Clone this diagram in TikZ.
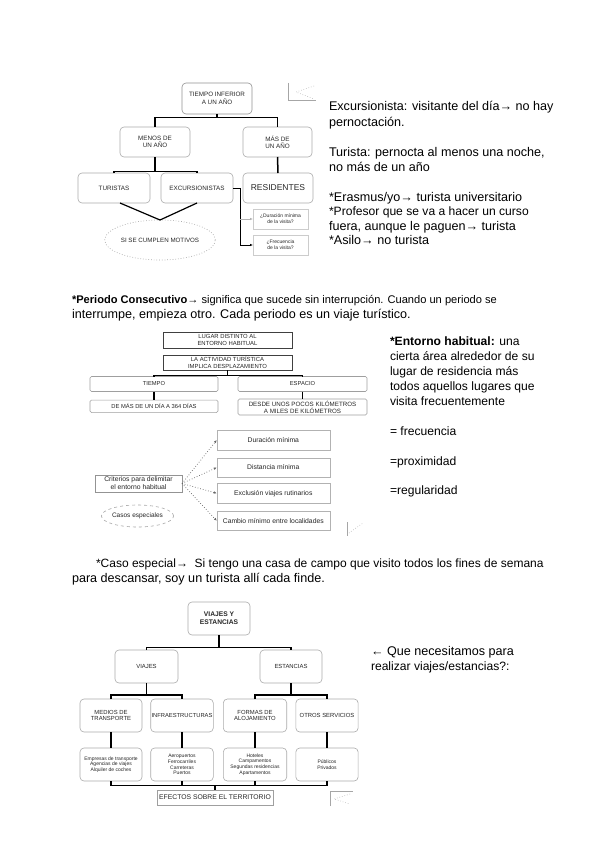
\documentclass[tikz,border=0pt]{standalone}
\usepackage{fontspec}
\setmainfont{Liberation Sans}
\usetikzlibrary{arrows.meta,shapes.geometric}
\begin{document}
\begin{tikzpicture}[x=1pt,y=-1pt,
  every node/.style={inner sep=0pt, outer sep=0pt},
  body/.style={anchor=base west, font=\fontsize{12.6}{14.7}\selectfont},
  bodys/.style={anchor=base west, font=\fontsize{12.1}{14.7}\selectfont},
  rbox/.style={draw=gray!65, line width=0.6pt, rounded corners=4pt, align=center, font=\fontsize{6.3}{7.4}\selectfont, text=black!85},
  mbox/.style={draw=gray!75, line width=0.6pt, rounded corners=1.5pt, align=center, font=\fontsize{5.8}{6.8}\selectfont, text=black!85},
  sbox/.style={draw=black!75, line width=0.5pt, align=center, font=\fontsize{5.9}{6.9}\selectfont, text=black!85},
  gbox/.style={draw=gray!60, line width=0.5pt, align=center, font=\fontsize{6.8}{7.9}\selectfont, text=black!85},
  conn/.style={draw=black, line width=1.5pt},
  thinconn/.style={draw=black, line width=0.8pt},
  dotarrow/.style={draw=black!60, dotted, line width=0.7pt, -{Latex[length=3pt,width=2.5pt]}},
  dotline/.style={draw=gray!60, dotted, line width=0.6pt},
]
\useasboundingbox[fill=white] (0,0) rectangle (600,848);

% ---------- top diagram ----------
\node[rbox, draw=gray!85, minimum width=70pt, minimum height=31pt] (tiempo) at (217,98.5) {TIEMPO INFERIOR\\A UN AÑO};
\node[rbox, minimum width=70pt, minimum height=30pt] (menos) at (155,142) {MENOS DE\\UN AÑO};
\node[rbox, minimum width=69pt, minimum height=30pt] (mas) at (277.5,142) {MÁS DE\\UN AÑO};
\node[rbox, minimum width=72pt, minimum height=30pt] (turistas) at (114,188) {TURISTAS};
\node[rbox, minimum width=72pt, minimum height=30pt] (excur) at (197,188) {EXCURSIONISTAS};
\node[rbox, minimum width=70pt, minimum height=30pt, font=\fontsize{8.5}{10}\selectfont] (resid) at (278,188) {RESIDENTES};
\node[draw=gray!70, dotted, line width=0.7pt, ellipse, minimum width=94pt, minimum height=40pt, font=\fontsize{6.2}{7.2}\selectfont, text=black!85] (motiv) at (160,240) {SI SE CUMPLEN MOTIVOS};
\node[gbox, draw=gray!40, minimum width=55pt, minimum height=20pt, font=\fontsize{5}{6}\selectfont] (q1) at (280.5,219) {¿Duración mínima\\de la visita?};
\node[gbox, draw=gray!40, minimum width=55pt, minimum height=20pt, font=\fontsize{5}{6}\selectfont] (q2) at (280.5,245) {¿Frecuencia\\de la visita?};

\coordinate (b1) at (217,117.5);
\draw[conn] (tiempo.south) -- (b1);
\draw[conn] (menos.north) |- (b1) -| (mas.north);
\coordinate (b2) at (155,171.7);
\draw[conn] (menos.south) -- (b2);
\draw[conn] (turistas.north) |- (b2) -| (excur.north);
\draw[conn] (mas.south) -- (resid.north);
\draw[conn, line width=1.2pt] ([xshift=6pt]turistas.south) -- (motiv.north);
\draw[conn, line width=1.2pt] (excur.south) -- (motiv.north);
\draw[thinconn, -{Latex[length=3pt,width=2.5pt]}] (excur.east) -- ++(7,0) |- (q2.west);
\coordinate (j1) at (240,219);
\draw[gray!60, line width=0.6pt, -{Latex[length=3pt,width=2.5pt]}] (j1) -- (q1.west);

\draw[gray!70, line width=0.6pt] (288,83) -- (288,100) -- (316,100);
\draw[dotline] (314,86) -- (296,92) -- (314,99);

% ---------- top text ----------
\node[body] (t1) at (329,111) {Excursionista: visitante del día→ no hay};
\node[body] (t2) at (329,126) {pernoctación.};
\node[body] (t3) at (329,156) {Turista: pernocta al menos una noche,};
\node[body] (t4) at (329,171) {no más de un año};
\node[body] (t5) at (329,201) {*Erasmus/yo→ turista universitario};
\node[bodys] (t6) at (329,215.5) {*Profesor que se va a hacer un curso};
\node[body] (t7) at (329,230) {fuera, aunque le paguen→ turista};
\node[body] (t8) at (329,244.5) {*Asilo→ no turista};

% ---------- middle paragraph ----------
\node[body, font=\fontsize{11.1}{14.7}\selectfont] (p1) at (72,303) {\textbf{*Periodo Consecutivo}→ significa que sucede sin interrupción. Cuando un periodo se};
\node[body] (p2) at (72,318) {interrumpe, empieza otro. Cada periodo es un viaje turístico.};

% ---------- middle diagram ----------
\node[sbox, minimum width=129pt, minimum height=16pt] (lugar) at (227.5,340) {LUGAR DISTINTO AL\\ENTORNO HABITUAL};
\node[sbox, minimum width=129pt, minimum height=15pt] (activ) at (227.5,362.5) {LA ACTIVIDAD TURÍSTICA\\IMPLICA DESPLAZAMIENTO};
\node[mbox, minimum width=128pt, minimum height=15pt] (tiem2) at (154,384) {TIEMPO};
\node[mbox, minimum width=129pt, minimum height=15pt] (esp) at (302.5,384) {ESPACIO};
\node[mbox, minimum width=128pt, minimum height=12.5pt] (dur2) at (154,406.3) {DE MÁS DE UN DÍA A 364 DÍAS};
\node[mbox, minimum width=129pt, minimum height=16pt, font=\fontsize{6.2}{7}\selectfont] (esp2) at (302.5,407) {DESDE UNOS POCOS KILÓMETROS\\A MILES DE KILÓMETROS};
\coordinate (b3) at (227.5,375.5);
\draw[conn] (activ.south) -- (b3);
\draw[conn] (tiem2.north) |- (b3) -| (esp.north);
\draw[conn] (tiem2.south) -- (dur2.north);
\draw[conn] (esp.south) -- (esp2.north);

\node[gbox, draw=gray!85, minimum width=87pt, minimum height=17pt] (crit) at (138.5,483.5) {Criterios para delimitar\\el entorno habitual};
\node[gbox, minimum width=113pt, minimum height=20pt] (c1) at (273.3,440) {Duración mínima};
\node[gbox, minimum width=113pt, minimum height=18.5pt] (c2) at (273.3,467.5) {Distancia mínima};
\node[gbox, minimum width=113pt, minimum height=20pt] (c3) at (273.3,493.3) {Exclusión viajes rutinarios};
\node[gbox, minimum width=113pt, minimum height=18.3pt] (c4) at (273.3,520.8) {Cambio mínimo entre localidades};
\foreach \c in {c1,c2,c3,c4} \draw[dotarrow] (crit.east) -- (\c.west);
\node[draw=gray!70, dashed, line width=0.6pt, ellipse, minimum width=72pt, minimum height=22pt, font=\fontsize{6.5}{7.5}\selectfont, text=black!85] (casos) at (137.5,516) {Casos especiales};
\draw[gray!70, line width=0.6pt] (347,522) -- (347,536);
\draw[dotline] (349,533) -- (363,523);

% ---------- entorno text ----------
\node[bodys] (e1) at (390,345) {\textbf{*Entorno habitual:} una};
\node[bodys] (e2) at (390,360) {cierta área alrededor de su};
\node[bodys] (e3) at (390,375) {lugar de residencia más};
\node[bodys] (e4) at (390,390) {todos aquellos lugares que};
\node[bodys] (e5) at (390,405) {visita frecuentemente};
\node[bodys] (e6) at (390,435) {= frecuencia};
\node[bodys] (e7) at (390,465) {=proximidad};
\node[bodys] (e8) at (390,494.5) {=regularidad};

% ---------- caso especial ----------
\node[body, font=\fontsize{12}{14.7}\selectfont] (s1) at (96,567) {*Caso especial→\ \ Si tengo una casa de campo que visito todos los fines de semana};
\node[body] (s2) at (72,582) {para descansar, soy un turista allí cada finde.};

% ---------- bottom diagram ----------
\node[rbox, font=\bfseries\fontsize{6.7}{8}\selectfont, minimum width=62pt, minimum height=33pt] (vye) at (219,618.5) {VIAJES Y\\ESTANCIAS};
\node[rbox, minimum width=63pt, minimum height=33pt, font=\fontsize{5.9}{6.9}\selectfont] (viajes) at (146.5,666.5) {VIAJES};
\node[rbox, minimum width=62pt, minimum height=33pt, font=\fontsize{5.9}{6.9}\selectfont] (estan) at (291,666.5) {ESTANCIAS};
\node[rbox, minimum width=62pt, minimum height=33pt, font=\fontsize{5.9}{6.9}\selectfont] (medios) at (111,715.5) {MEDIOS DE\\TRANSPORTE};
\node[rbox, minimum width=62.6pt, minimum height=33pt, font=\fontsize{5.8}{6.8}\selectfont] (infra) at (182,715.5) {INFRAESTRUCTURAS};
\node[rbox, minimum width=63.4pt, minimum height=33pt, font=\fontsize{5.9}{6.9}\selectfont] (formas) at (255,715.5) {FORMAS DE\\ALOJAMIENTO};
\node[rbox, minimum width=62.3pt, minimum height=33pt, font=\fontsize{5.9}{6.9}\selectfont] (otros) at (327,715.5) {OTROS SERVICIOS};
\node[rbox, minimum width=62pt, minimum height=33pt, font=\fontsize{5}{5.8}\selectfont] (r1) at (111,764.5) {Empresas de transporte\\Agencias de viajes\\Alquiler de coches};
\node[rbox, minimum width=62.6pt, minimum height=33pt, font=\fontsize{5}{5.8}\selectfont] (r2) at (182,764.5) {Aeropuertos\\Ferrocarriles\\Carreteras\\Puertos};
\node[rbox, minimum width=63.4pt, minimum height=33pt, font=\fontsize{5}{5.8}\selectfont] (r3) at (255,764.5) {Hoteles\\Campamentos\\Segundas residencias\\Apartamentos};
\node[rbox, minimum width=62.3pt, minimum height=33pt, font=\fontsize{5}{5.8}\selectfont] (r4) at (327,764.5) {Públicos\\Privados};
\node[gbox, draw=gray!75, minimum width=116pt, minimum height=15pt, font=\fontsize{6.8}{7.8}\selectfont] (efect) at (215,797.5) {EFECTOS SOBRE EL TERRITORIO};

\coordinate (b4) at (219,647.3);
\draw[conn] (vye.south) -- (b4);
\draw[conn] (viajes.north) |- (b4) -| (estan.north);
\coordinate (b5) at (146.5,695);
\draw[conn] (viajes.south) -- (b5);
\draw[conn] (medios.north) |- (b5) -| (infra.north);
\coordinate (b6) at (291,695);
\draw[conn] (estan.south) -- (b6);
\draw[conn] (formas.north) |- (b6) -| (otros.north);
\draw[conn] (medios.south) -- (r1.north);
\draw[conn] (infra.south) -- (r2.north);
\draw[conn] (formas.south) -- (r3.north);
\draw[conn] (otros.south) -- (r4.north);
\coordinate (b7) at (215,785.7);
\draw[conn] (r1.south) |- (b7) -| (r4.south);
\draw[conn] (r2.south) -- (r2.south |- b7);
\draw[conn] (r3.south) -- (r3.south |- b7);
\draw[conn] (b7) -- (efect.north);

\draw[gray!70, line width=0.6pt] (330,806) -- (330,791) -- (353,791);
\draw[dotline] (350,794) -- (334,799) -- (350,804);

% ---------- bottom right text ----------
\node[body] (n1) at (371,655) {← Que necesitamos para};
\node[bodys] (n2) at (371,670) {realizar viajes/estancias?:};

\end{tikzpicture}
\end{document}
